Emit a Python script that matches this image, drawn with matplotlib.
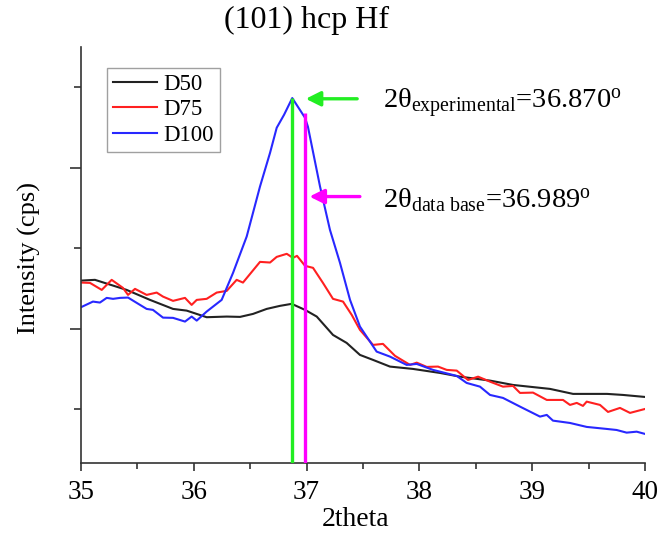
import numpy as np
import matplotlib
matplotlib.use('Agg')
import matplotlib.pyplot as plt
from matplotlib.ticker import MultipleLocator, NullFormatter

plt.rcParams['font.family'] = ['Liberation Serif', 'DejaVu Serif']
plt.rcParams['mathtext.fontset'] = 'custom'
plt.rcParams['mathtext.rm'] = 'Liberation Serif'
plt.rcParams['mathtext.it'] = 'Liberation Serif:italic'

# D50
x_d50 = [35.006, 35.124, 35.405, 35.612, 35.816, 35.937, 36.114, 36.292, 36.410, 36.525,
         36.646, 36.764, 36.868, 36.986, 37.090, 37.234, 37.355, 37.473, 37.589, 37.739,
         37.943, 38.183, 38.360, 38.626, 38.830, 39.158, 39.362, 39.663, 39.805, 40.0]
y_d50 = [260.0, 260.9, 248.4, 236.0, 224.8, 222.7, 214.5, 215.3, 214.9, 218.6,
         224.8, 228.6, 231.1, 223.6, 215.3, 192.5, 182.6, 167.7, 161.5, 153.2,
         150.3, 145.3, 140.7, 135.8, 130.4, 125.5, 119.3, 119.3, 118.0, 115.5]

# D75
x_d75 = [35.006, 35.080, 35.184, 35.272, 35.372, 35.417, 35.479, 35.582, 35.671, 35.727,
         35.816, 35.922, 35.981, 36.026, 36.114, 36.203, 36.292, 36.380, 36.436, 36.587,
         36.676, 36.735, 36.824, 36.879, 36.915, 36.986, 37.057, 37.145, 37.234, 37.323,
         37.400, 37.473, 37.589, 37.677, 37.784, 37.917, 37.976, 38.065, 38.165, 38.242,
         38.331, 38.431, 38.520, 38.626, 38.741, 38.830, 38.892, 39.007, 39.129, 39.273,
         39.335, 39.395, 39.450, 39.483, 39.601, 39.672, 39.778, 39.867, 40.0]
y_d75 = [257.5, 257.1, 248.4, 260.9, 250.9, 242.2, 249.7, 242.2, 245.1, 240.1,
         234.8, 238.5, 229.8, 236.0, 237.3, 245.1, 247.2, 260.9, 257.5, 283.2,
         282.4, 289.4, 293.2, 288.2, 290.7, 278.3, 275.8, 257.1, 237.3, 233.9,
         217.4, 198.8, 180.1, 181.4, 166.5, 155.3, 158.1, 152.8, 153.2, 149.1,
         148.2, 136.6, 140.7, 134.5, 128.3, 129.2, 120.5, 120.9, 111.8, 111.8,
         105.6, 108.1, 104.4, 109.7, 105.6, 96.9, 101.9, 95.7, 100.6]

# D100
x_d100 = [35.006, 35.106, 35.168, 35.228, 35.284, 35.346, 35.417, 35.494, 35.582, 35.638,
          35.727, 35.816, 35.922, 35.981, 36.026, 36.114, 36.247, 36.348, 36.469, 36.587,
          36.676, 36.735, 36.800, 36.873, 36.986, 37.012, 37.119, 37.207, 37.296, 37.385,
          37.473, 37.621, 37.739, 37.887, 37.976, 38.121, 38.331, 38.419, 38.537, 38.626,
          38.741, 38.892, 39.069, 39.129, 39.184, 39.335, 39.483, 39.660, 39.748, 39.837,
          39.926, 40.0]
y_d100 = [227.3, 233.9, 232.7, 238.5, 237.3, 238.5, 238.9, 232.3, 224.8, 223.6,
          214.0, 213.7, 209.1, 215.3, 210.3, 221.5, 236.0, 269.6, 314.7, 376.8,
          418.6, 449.7, 465.8, 486.6, 462.1, 450.9, 376.8, 323.0, 282.0, 236.0,
          202.9, 171.8, 165.6, 155.3, 156.5, 149.1, 141.6, 132.9, 128.3, 118.0,
          114.3, 103.5, 91.1, 93.2, 86.1, 83.2, 78.3, 75.8, 74.5, 71.2,
          72.4, 69.6]

theta_exp = 36.870
theta_db = 36.989

fig = plt.figure(figsize=(6.6, 5.37), dpi=100)
ax = fig.add_axes([0.1227, 0.1378, 0.8546, 0.7747])

ax.plot(x_d50, y_d50, color='#222222', lw=1.5, label='D50')
ax.plot(x_d75, y_d75, color='#ff2020', lw=1.5, label='D75')
ax.plot(x_d100, y_d100, color='#2828ff', lw=1.5, label='D100')

ymin, ymax = 33.5, 550
ax.vlines(theta_exp, ymin, 486.6, color='#22ee22', lw=2.4, zorder=3)
ax.vlines(theta_db, ymin, 467.9, color='#ff00ff', lw=2.4, zorder=3)

ax.annotate('', xy=(36.968, 485.7), xytext=(37.473, 485.7),
            arrowprops=dict(arrowstyle='-|>', color='#22ee22', lw=2.4, mutation_scale=22))
ax.annotate('', xy=(37.001, 364.3), xytext=(37.497, 364.3),
            arrowprops=dict(arrowstyle='-|>', color='#ff00ff', lw=2.4, mutation_scale=22))

ax.text(37.673, 474.5, r'2θ$_{\mathrm{experimental}}$=36.870$^{\mathrm{o}}$',
        fontsize=20.5, va='baseline', ha='left')
ax.text(37.673, 350.3, r'2θ$_{\mathrm{data\ base}}$=36.989$^{\mathrm{o}}$',
        fontsize=20.5, va='baseline', ha='left')

ax.set_xlim(35, 40)
ax.set_ylim(ymin, ymax)
ax.xaxis.set_major_locator(MultipleLocator(1))
ax.xaxis.set_minor_locator(MultipleLocator(0.5))
ax.yaxis.set_major_locator(MultipleLocator(200))
ax.yaxis.set_minor_locator(MultipleLocator(100))
ax.yaxis.set_major_formatter(NullFormatter())

for s in ['top', 'right']:
    ax.spines[s].set_visible(False)
for s in ['left', 'bottom']:
    ax.spines[s].set_linewidth(1.2)
    ax.spines[s].set_color('#333333')
ax.tick_params(which='major', direction='out', length=6, width=1.2, color='#333333',
               labelsize=19.5, pad=6)
ax.tick_params(which='minor', direction='out', length=4, width=1.2, color='#333333')
ax.tick_params(axis='y', which='major', length=8)
ax.tick_params(axis='y', which='minor', length=5)

leg = ax.legend(loc='upper left', bbox_to_anchor=(0.047, 0.95), fontsize=16.5,
                frameon=True, fancybox=False, handlelength=1.9, handletextpad=0.3,
                borderpad=0.25, labelspacing=0.2, borderaxespad=0)
leg.get_frame().set_edgecolor('#888888')
leg.get_frame().set_linewidth(1.0)

fig.text(0.465, 0.948, '(101) hcp Hf', fontsize=23, ha='center', va='baseline')
fig.text(0.045, 0.52, 'Intensity (cps)', fontsize=19, rotation=90, ha='center', va='center')
fig.text(0.538, 0.02, '2theta', fontsize=20, ha='center', va='baseline')

fig.savefig('out.png', dpi=100)
